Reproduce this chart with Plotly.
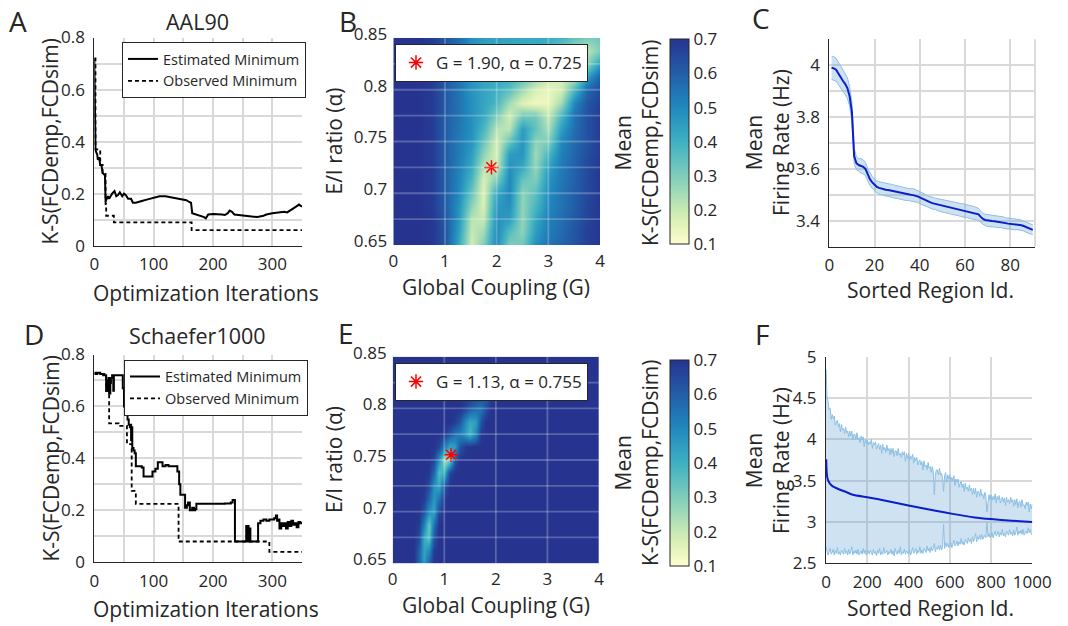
import plotly.graph_objects as go

W, H = 1068, 626
FONT = "Open Sans"
TXT = "#262626"
GRID = "#d9d9d9"

# ---------------- data ----------------
# Panel A (AAL90) optimisation traces
A_EST_X = [0, 1, 1.5, 2, 3, 5, 6, 8, 10, 12, 14, 17, 18, 19, 21, 23, 25, 27, 30, 34,
           37, 40, 43, 47, 50, 53, 57, 62, 65, 70, 75, 80, 90, 100, 110, 120, 130, 140, 150, 155,
           160, 163, 165, 170, 180, 185, 188, 192, 200, 210, 215, 220, 225, 228, 232, 236, 245, 255, 265, 275,
           285, 290, 300, 310, 320, 325, 330, 335, 340, 345, 348, 350]
A_EST = [0.72, 0.50, 0.40, 0.37, 0.36, 0.35, 0.33, 0.34, 0.31, 0.31, 0.28, 0.27, 0.27, 0.17, 0.18, 0.19, 0.18, 0.19, 0.20, 0.21,
         0.19, 0.195, 0.205, 0.19, 0.20, 0.195, 0.18, 0.18, 0.165, 0.165, 0.17, 0.172, 0.178, 0.185, 0.19, 0.19, 0.185, 0.182, 0.177, 0.175,
         0.168, 0.165, 0.125, 0.122, 0.115, 0.11, 0.105, 0.12, 0.122, 0.122, 0.12, 0.118, 0.125, 0.135, 0.13, 0.12, 0.118, 0.115, 0.112, 0.11,
         0.115, 0.12, 0.125, 0.128, 0.13, 0.128, 0.135, 0.14, 0.15, 0.158, 0.155, 0.15]
A_OBS_X = [0, 2, 10, 14, 19, 20, 33, 164, 350]
A_OBS = [0.72, 0.37, 0.31, 0.28, 0.16, 0.115, 0.09, 0.06, 0.06]

# Panel D (Schaefer1000) optimisation traces
D_EST_X = [0, 5, 10, 15, 18, 20, 22, 24, 25, 27, 28, 30, 32, 33, 35, 48, 50, 52, 54, 56,
           58, 60, 61, 62, 63, 64, 66, 68, 70, 75, 80, 83, 88, 95, 98, 103, 107, 112, 115, 120,
           125, 130, 138, 140, 143, 145, 150, 153, 156, 158, 161, 165, 168, 170, 172, 180, 200, 220, 230, 233,
           236, 237, 240, 255, 256, 257, 259, 260, 262, 263, 275, 276, 280, 285, 290, 295, 300, 303, 306, 308,
           310, 312, 315, 318, 320, 323, 326, 329, 332, 335, 338, 341, 344, 347, 350]
D_EST = [0.73, 0.73, 0.725, 0.72, 0.72, 0.66, 0.70, 0.71, 0.65, 0.69, 0.71, 0.72, 0.66, 0.72, 0.72, 0.67, 0.60, 0.59, 0.58, 0.55,
         0.53, 0.52, 0.53, 0.47, 0.52, 0.44, 0.43, 0.42, 0.37, 0.37, 0.365, 0.33, 0.33, 0.33, 0.35, 0.36, 0.385, 0.385, 0.37, 0.375,
         0.37, 0.37, 0.37, 0.35, 0.30, 0.26, 0.26, 0.21, 0.22, 0.23, 0.20, 0.21, 0.20, 0.205, 0.225, 0.225, 0.225, 0.226, 0.23, 0.24,
         0.24, 0.08, 0.08, 0.08, 0.14, 0.08, 0.14, 0.08, 0.13, 0.08, 0.08, 0.15, 0.16, 0.165, 0.16, 0.165, 0.165, 0.17, 0.18, 0.16,
         0.165, 0.13, 0.15, 0.14, 0.15, 0.13, 0.155, 0.14, 0.16, 0.145, 0.15, 0.135, 0.155, 0.15, 0.155]
D_OBS_X = [0, 20, 25, 41, 55, 63, 70, 142, 295, 350]
D_OBS = [0.725, 0.66, 0.535, 0.525, 0.455, 0.275, 0.225, 0.08, 0.04, 0.04]

# Heatmap grids
B_G = [0, 0.25, 0.5, 0.75, 1.0, 1.25, 1.5, 1.75, 2.0, 2.25, 2.5, 2.75, 3.0, 3.25, 3.5, 3.75, 4.0]
ALPHA = [0.65, 0.6625, 0.675, 0.6875, 0.70, 0.7125, 0.725, 0.7375, 0.75, 0.7625, 0.775, 0.7875,
         0.80, 0.8125, 0.825, 0.8375, 0.85]
B_Z = [
    [.70, .70, .70, .69, .62, .42, .18, .30, .50, .30, .32, .48, .55, .58, .62, .67, .69],
    [.70, .70, .70, .69, .62, .45, .20, .25, .50, .36, .28, .45, .53, .57, .62, .67, .69],
    [.70, .70, .70, .69, .61, .47, .22, .20, .48, .45, .27, .42, .52, .56, .61, .66, .69],
    [.70, .70, .70, .68, .60, .48, .28, .17, .46, .48, .27, .38, .50, .55, .60, .66, .69],
    [.70, .70, .70, .68, .60, .50, .33, .16, .42, .50, .28, .35, .49, .55, .60, .65, .69],
    [.70, .70, .70, .68, .60, .51, .38, .17, .30, .50, .33, .30, .47, .54, .59, .65, .69],
    [.70, .70, .70, .68, .60, .52, .42, .22, .20, .48, .42, .27, .44, .53, .59, .65, .69],
    [.70, .70, .70, .68, .60, .53, .45, .28, .17, .45, .47, .25, .38, .52, .58, .64, .68],
    [.70, .70, .70, .68, .60, .53, .47, .33, .18, .34, .47, .28, .30, .50, .57, .63, .68],
    [.70, .70, .70, .68, .60, .54, .48, .38, .22, .22, .45, .34, .24, .45, .56, .63, .68],
    [.70, .70, .70, .68, .60, .55, .48, .42, .30, .18, .32, .32, .20, .38, .55, .63, .68],
    [.70, .70, .70, .68, .61, .55, .48, .43, .38, .25, .16, .13, .14, .25, .50, .62, .67],
    [.70, .70, .70, .68, .61, .55, .47, .43, .40, .35, .25, .17, .14, .18, .38, .58, .65],
    [.70, .70, .70, .68, .61, .55, .47, .43, .42, .41, .36, .28, .20, .17, .22, .45, .60],
    [.70, .70, .70, .68, .61, .56, .47, .43, .43, .43, .41, .38, .31, .22, .18, .28, .45],
    [.70, .70, .70, .68, .62, .56, .48, .44, .43, .43, .42, .41, .38, .31, .25, .22, .30],
    [.70, .70, .70, .68, .62, .57, .48, .45, .44, .43, .42, .42, .41, .39, .34, .30, .32],
]
B_BEST_G, B_BEST_A = 1.90, 0.725

E_G = [0, 0.3, 0.4, 0.5, 0.6, 0.7, 0.8, 0.9, 1.0, 1.1, 1.2, 1.3, 1.4, 1.5, 1.6, 1.7, 1.8, 1.9, 2.0, 2.2, 2.6, 3.0, 3.5, 4.0]
E_Z = [
    [.70, .70, .70, .58, .45, .58, .70, .70, .70, .70, .70, .70, .70, .70, .70, .70, .70, .70, .70, .70, .70, .70, .70, .70],
    [.70, .70, .70, .60, .43, .50, .68, .70, .70, .70, .70, .70, .70, .70, .70, .70, .70, .70, .70, .70, .70, .70, .70, .70],
    [.70, .70, .70, .65, .42, .34, .62, .70, .70, .70, .70, .70, .70, .70, .70, .70, .70, .70, .70, .70, .70, .70, .70, .70],
    [.70, .70, .70, .68, .52, .33, .55, .70, .70, .70, .70, .70, .70, .70, .70, .70, .70, .70, .70, .70, .70, .70, .70, .70],
    [.70, .70, .70, .70, .62, .48, .43, .65, .70, .70, .70, .70, .70, .70, .70, .70, .70, .70, .70, .70, .70, .70, .70, .70],
    [.70, .70, .70, .70, .68, .58, .46, .55, .69, .70, .70, .70, .70, .70, .70, .70, .70, .70, .70, .70, .70, .70, .70, .70],
    [.70, .70, .70, .70, .70, .64, .48, .42, .62, .70, .70, .70, .70, .70, .70, .70, .70, .70, .70, .70, .70, .70, .70, .70],
    [.70, .70, .70, .70, .70, .69, .58, .36, .42, .66, .70, .70, .70, .70, .70, .70, .70, .70, .70, .70, .70, .70, .70, .70],
    [.70, .70, .70, .70, .70, .70, .66, .48, .24, .30, .62, .70, .70, .70, .70, .70, .70, .70, .70, .70, .70, .70, .70, .70],
    [.70, .70, .70, .70, .70, .70, .70, .66, .52, .42, .45, .62, .68, .70, .70, .70, .70, .70, .70, .70, .70, .70, .70, .70],
    [.70, .70, .70, .70, .70, .70, .70, .70, .68, .62, .55, .52, .46, .38, .50, .68, .70, .70, .70, .70, .70, .70, .70, .70],
    [.70, .70, .70, .70, .70, .70, .70, .70, .70, .70, .68, .62, .50, .42, .45, .62, .70, .70, .70, .70, .70, .70, .70, .70],
    [.70, .70, .70, .70, .70, .70, .70, .70, .70, .70, .70, .70, .66, .60, .56, .55, .63, .70, .70, .70, .70, .70, .70, .70],
    [.70, .70, .70, .70, .70, .70, .70, .70, .70, .70, .70, .70, .70, .70, .67, .63, .62, .67, .70, .70, .70, .70, .70, .70],
    [.70, .70, .70, .70, .70, .70, .70, .70, .70, .70, .70, .70, .70, .70, .70, .70, .68, .70, .70, .70, .70, .70, .70, .70],
    [.70, .70, .70, .70, .70, .70, .70, .70, .70, .70, .70, .70, .70, .70, .70, .70, .70, .70, .70, .70, .70, .70, .70, .70],
    [.70, .70, .70, .70, .70, .70, .70, .70, .70, .70, .70, .70, .70, .70, .70, .70, .70, .70, .70, .70, .70, .70, .70, .70],
]
E_BEST_G, E_BEST_A = 1.13, 0.755

HEAT_GRID_G = [1, 2, 3]
HEAT_GRID_ALPHA = [0.675, 0.70, 0.725, 0.75, 0.775, 0.80, 0.825]

# Panel C (AAL90 firing rates, sorted)
C_REGION = list(range(1, 91))
C_MEAN = [3.990, 3.988, 3.983, 3.968, 3.952, 3.940, 3.928, 3.912, 3.880, 3.820,
          3.650, 3.622, 3.615, 3.612, 3.608, 3.600, 3.578, 3.560, 3.548, 3.538,
          3.531, 3.527, 3.524, 3.522, 3.520, 3.519, 3.517, 3.514, 3.512, 3.510,
          3.508, 3.506, 3.504, 3.502, 3.501, 3.500, 3.499, 3.497, 3.494, 3.490,
          3.486, 3.481, 3.475, 3.472, 3.470, 3.467, 3.465, 3.462, 3.460, 3.458,
          3.456, 3.454, 3.452, 3.450, 3.448, 3.446, 3.444, 3.442, 3.440, 3.438,
          3.436, 3.434, 3.432, 3.430, 3.428, 3.425, 3.415, 3.407, 3.403, 3.401,
          3.400, 3.399, 3.398, 3.397, 3.396, 3.395, 3.393, 3.391, 3.389, 3.388,
          3.387, 3.386, 3.386, 3.385, 3.383, 3.380, 3.376, 3.372, 3.368, 3.365]
C_SD = [0.045, 0.045, 0.044, 0.043, 0.042, 0.041, 0.040, 0.040, 0.038, 0.036,
        0.030, 0.025, 0.024, 0.028, 0.027, 0.025, 0.024, 0.024, 0.023, 0.023,
        0.023, 0.024, 0.024, 0.025, 0.025, 0.024, 0.025, 0.026, 0.025, 0.024,
        0.024, 0.025, 0.025, 0.024, 0.023, 0.024, 0.025, 0.024, 0.023, 0.024,
        0.024, 0.023, 0.022, 0.023, 0.024, 0.023, 0.022, 0.023, 0.024, 0.025,
        0.024, 0.023, 0.024, 0.025, 0.024, 0.023, 0.024, 0.025, 0.026, 0.025,
        0.024, 0.025, 0.026, 0.025, 0.024, 0.023, 0.022, 0.021, 0.022, 0.023,
        0.022, 0.021, 0.022, 0.023, 0.022, 0.021, 0.022, 0.021, 0.020, 0.021,
        0.022, 0.021, 0.020, 0.021, 0.020, 0.019, 0.020, 0.019, 0.020, 0.019]

# Panel F (Schaefer1000 firing rates, sorted) - band edges sampled every 5 regions
F_REGION = list(range(0, 1001, 5))
F_UP = [4.85, 4.51, 4.46, 4.36, 4.38, 4.24, 4.30, 4.25, 4.28, 4.17, 4.21, 4.23, 4.15, 4.19, 4.09, 4.18, 4.11, 4.13, 4.07, 4.15,
        4.08, 4.10, 4.03, 4.10, 4.04, 4.10, 3.99, 4.06, 4.06, 4.00, 4.08, 4.00, 4.02, 3.96, 4.04, 3.99, 4.03, 3.91, 4.00, 3.95,
        4.00, 3.93, 3.97, 3.94, 4.00, 3.89, 3.96, 3.93, 3.97, 3.88, 3.92, 3.95, 3.88, 3.93, 3.83, 3.94, 3.87, 3.90, 3.84, 3.93,
        3.86, 3.89, 3.81, 3.89, 3.83, 3.89, 3.79, 3.86, 3.86, 3.80, 3.89, 3.81, 3.83, 3.78, 3.85, 3.81, 3.85, 3.73, 3.83, 3.77,
        3.83, 3.75, 3.80, 3.76, 3.82, 3.71, 3.78, 3.74, 3.78, 3.69, 3.73, 3.75, 3.69, 3.73, 3.63, 3.74, 3.67, 3.69, 3.63, 3.72,
        3.65, 3.67, 3.60, 3.67, 3.61, 3.33, 3.56, 3.63, 3.63, 3.57, 3.65, 3.57, 3.59, 3.53, 3.37, 3.56, 3.60, 3.48, 3.57, 3.52,
        3.57, 3.49, 3.54, 3.50, 3.56, 3.44, 3.52, 3.48, 3.52, 3.42, 3.47, 3.49, 3.42, 3.46, 3.37, 3.47, 3.40, 3.42, 3.37, 3.45,
        3.38, 3.41, 3.33, 3.41, 3.34, 3.41, 3.30, 3.37, 3.37, 3.31, 3.40, 3.32, 3.34, 3.28, 3.36, 3.31, 3.12, 3.26, 3.33, 3.27,
        3.33, 3.26, 3.31, 3.27, 3.34, 3.23, 3.31, 3.27, 3.32, 3.23, 3.28, 3.30, 3.24, 3.29, 3.20, 3.30, 3.24, 3.27, 3.22, 3.30,
        3.24, 3.27, 3.19, 3.27, 3.21, 3.28, 3.17, 3.24, 3.25, 3.18, 3.27, 3.20, 3.21, 3.16, 3.24, 3.20, 3.24, 3.12, 3.22, 3.16, 3.22]
F_LO = [2.70, 2.66, 2.60, 2.64, 2.68, 2.61, 2.63, 2.67, 2.60, 2.65, 2.62, 2.69, 2.61, 2.64, 2.60, 2.66, 2.63, 2.61, 2.68, 2.62,
        2.65, 2.60, 2.67, 2.61, 2.64, 2.70, 2.60, 2.65, 2.62, 2.66, 2.61, 2.67, 2.60, 2.63, 2.65, 2.61, 2.68, 2.62, 2.66, 2.60,
        2.62, 2.65, 2.61, 2.66, 2.63, 2.60, 2.67, 2.62, 2.64, 2.59, 2.66, 2.62, 2.68, 2.60, 2.64, 2.61, 2.69, 2.62, 2.63, 2.66,
        2.60, 2.64, 2.62, 2.67, 2.61, 2.65, 2.59, 2.68, 2.63, 2.61, 2.66, 2.62, 2.70, 2.60, 2.64, 2.62, 2.67, 2.61, 2.65, 2.62,
        2.61, 2.66, 2.60, 2.64, 2.69, 2.62, 2.64, 2.68, 2.61, 2.66, 2.63, 2.70, 2.62, 2.66, 2.62, 2.68, 2.65, 2.63, 2.71, 2.65,
        2.68, 2.63, 2.70, 2.65, 2.68, 2.74, 2.64, 2.69, 2.67, 2.71, 2.66, 2.72, 2.66, 2.69, 2.97, 2.68, 2.75, 2.70, 2.74, 2.69,
        2.70, 2.75, 2.69, 2.74, 2.78, 2.71, 2.73, 2.77, 2.71, 2.76, 2.73, 2.80, 2.73, 2.76, 2.72, 2.79, 2.76, 2.74, 2.81, 2.76,
        2.79, 2.74, 2.82, 2.76, 2.80, 2.86, 2.76, 2.82, 2.79, 2.84, 2.79, 2.85, 2.79, 2.82, 2.84, 2.81, 3.00, 2.82, 2.86, 2.81,
        2.82, 2.87, 2.81, 2.85, 2.89, 2.83, 2.85, 2.89, 2.82, 2.87, 2.84, 2.91, 2.83, 2.86, 2.82, 2.89, 2.86, 2.84, 2.91, 2.85,
        2.88, 2.83, 2.90, 2.84, 2.87, 2.94, 2.84, 2.89, 2.86, 2.90, 2.85, 2.91, 2.84, 2.87, 2.89, 2.86, 2.93, 2.87, 2.91, 2.85, 2.86]
F_MEAN_X = [1, 3, 5, 8, 13, 20, 33, 50, 68, 100, 130, 200, 295, 400, 525, 620, 720, 800, 900, 1000]
F_MEAN = [3.76, 3.62, 3.56, 3.52, 3.49, 3.46, 3.43, 3.41, 3.39, 3.36, 3.33, 3.30, 3.255, 3.20, 3.14, 3.095, 3.055, 3.035, 3.015, 3.00]

# ---------------- styling helpers ----------------
CSCALE = [[0.0, '#fcfdcf'], [0.083, '#e5f4bb'], [0.167, '#c7e9b4'], [0.333, '#7fcdbb'],
          [0.5, '#3fb0c3'], [0.667, '#2188bd'], [0.833, '#225ea8'], [1.0, '#26348f']]
BAND_FILL = 'rgba(95,158,208,0.30)'
BAND_EDGE = '#8bbfe3'
MEAN_COL = '#0a1ecb'
TICK = 17


def fx(px):
    return px / W


def fy(py):
    return 1 - py / H


fig = go.Figure()

# ---- A ----
fig.add_trace(go.Scatter(x=A_EST_X, y=A_EST, mode='lines', name='Estimated Minimum',
                         line=dict(color='black', width=2), xaxis='x', yaxis='y', legend='legend'))
fig.add_trace(go.Scatter(x=A_OBS_X, y=A_OBS, mode='lines', name='Observed Minimum',
                         line=dict(color='black', width=1.8, dash='4px,3px', shape='hv'),
                         xaxis='x', yaxis='y', legend='legend'))

# ---- D ----
fig.add_trace(go.Scatter(x=D_EST_X, y=D_EST, mode='lines', name='Estimated Minimum',
                         line=dict(color='black', width=2, shape='hv'), xaxis='x4', yaxis='y4', legend='legend2'))
fig.add_trace(go.Scatter(x=D_OBS_X, y=D_OBS, mode='lines', name='Observed Minimum',
                         line=dict(color='black', width=1.8, dash='4px,3px', shape='hv'),
                         xaxis='x4', yaxis='y4', legend='legend2'))


def cbar(yc_px, len_px):
    return dict(x=fx(670), xanchor='left', xpad=0, ypad=0, y=fy(yc_px), yanchor='middle',
                len=len_px / H, lenmode='fraction', thickness=19, outlinewidth=1, outlinecolor=TXT,
                tickvals=[0.1, 0.2, 0.3, 0.4, 0.5, 0.6, 0.7], ticks='',
                tickfont=dict(size=TICK, color=TXT, family=FONT))


# ---- B ----
fig.add_trace(go.Heatmap(x=B_G, y=ALPHA, z=B_Z, zmin=0.1, zmax=0.7, colorscale=CSCALE, zsmooth='best',
                         xaxis='x2', yaxis='y2', colorbar=cbar(141.8, 205), hoverinfo='skip'))
fig.add_trace(go.Scatter(x=[B_BEST_G], y=[B_BEST_A], mode='markers',
                         name=f'G = {B_BEST_G:.2f}, α = {B_BEST_A:.3f}',
                         marker=dict(symbol='asterisk-open', size=12, color='red', line=dict(color='red', width=1.5)),
                         xaxis='x2', yaxis='y2', legend='legend3'))

# ---- E ----
fig.add_trace(go.Heatmap(x=E_G, y=ALPHA, z=E_Z, zmin=0.1, zmax=0.7, colorscale=CSCALE, zsmooth='best',
                         xaxis='x5', yaxis='y5', colorbar=cbar(463, 206), hoverinfo='skip'))
fig.add_trace(go.Scatter(x=[E_BEST_G], y=[E_BEST_A], mode='markers',
                         name=f'G = {E_BEST_G:.2f}, α = {E_BEST_A:.3f}',
                         marker=dict(symbol='asterisk-open', size=12, color='red', line=dict(color='red', width=1.5)),
                         xaxis='x5', yaxis='y5', legend='legend4'))

# ---- C ----
c_lo = [m - s for m, s in zip(C_MEAN, C_SD)]
c_hi = [m + s for m, s in zip(C_MEAN, C_SD)]
fig.add_trace(go.Scatter(x=C_REGION, y=c_lo, mode='lines', line=dict(color=BAND_EDGE, width=1),
                         xaxis='x3', yaxis='y3', showlegend=False))
fig.add_trace(go.Scatter(x=C_REGION, y=c_hi, mode='lines', line=dict(color=BAND_EDGE, width=1),
                         fill='tonexty', fillcolor=BAND_FILL, xaxis='x3', yaxis='y3', showlegend=False))
fig.add_trace(go.Scatter(x=C_REGION, y=C_MEAN, mode='lines', line=dict(color=MEAN_COL, width=2),
                         xaxis='x3', yaxis='y3', showlegend=False))

# ---- F ----
fig.add_trace(go.Scatter(x=F_REGION, y=F_LO, mode='lines', line=dict(color=BAND_EDGE, width=1),
                         xaxis='x6', yaxis='y6', showlegend=False))
fig.add_trace(go.Scatter(x=F_REGION, y=F_UP, mode='lines', line=dict(color=BAND_EDGE, width=1),
                         fill='tonexty', fillcolor=BAND_FILL, xaxis='x6', yaxis='y6', showlegend=False))
fig.add_trace(go.Scatter(x=F_MEAN_X, y=F_MEAN, mode='lines', line=dict(color=MEAN_COL, width=2, shape='spline', smoothing=0.6),
                         xaxis='x6', yaxis='y6', showlegend=False))


# ---------------- axes ----------------
def line_axis(domain, anchor, rng, dtick, minor=None, tick0=0, standoff=0):
    d = dict(domain=domain, anchor=anchor, range=rng, dtick=dtick, tick0=tick0, tickmode='linear',
             showline=True, linecolor=TXT, linewidth=1, ticks='', showgrid=True, gridcolor=GRID,
             gridwidth=1.8, zeroline=False, fixedrange=True, automargin=False,
             tickfont=dict(size=TICK, color=TXT, family=FONT))
    if standoff:
        d['ticklabelstandoff'] = standoff
    if minor:
        d['minor'] = dict(dtick=minor, tick0=tick0, showgrid=True, gridcolor=GRID, gridwidth=1.8)
    return d


def heat_axis(domain, anchor, rng, tickvals, ticktext, shift=0, standoff=0):
    d = dict(domain=domain, anchor=anchor, range=rng, tickmode='array', tickvals=tickvals, ticktext=ticktext,
             showline=False, showgrid=False, zeroline=False, ticks='', fixedrange=True, automargin=False,
             tickfont=dict(size=TICK, color=TXT, family=FONT))
    if shift:
        d['ticklabelshift'] = shift
    if standoff:
        d['ticklabelstandoff'] = standoff
    return d


G_TICKS = [0, 1, 2, 3, 4]
A_TICKS = [0.65, 0.70, 0.75, 0.80, 0.85]
A_TEXT = ['0.65', '0.7', '0.75', '0.8', '0.85']

top_dom = [fy(245.7), fy(37.5)]
bot_dom = [fy(562.3), fy(354.5)]

layout_axes = dict(
    xaxis=line_axis([fx(94.3), fx(302)], 'y', [0, 350], 100, 50, standoff=3),
    yaxis=line_axis(top_dom, 'x', [0, 0.8], 0.2, 0.1, standoff=5),
    xaxis4=line_axis([fx(94.3), fx(302)], 'y4', [0, 350], 100, 50, standoff=3),
    yaxis4=line_axis(bot_dom, 'x4', [0, 0.8], 0.2, 0.1, standoff=5),
    xaxis2=heat_axis([fx(393.3), fx(600)], 'y2', [0, 4], G_TICKS, [str(g) for g in G_TICKS], standoff=4),
    yaxis2=heat_axis([fy(245), fy(38)], 'x2', [0.65, 0.85], A_TICKS, A_TEXT, shift=-4, standoff=5),
    xaxis5=heat_axis([fx(392.7), fx(599)], 'y5', [0, 4], G_TICKS, [str(g) for g in G_TICKS], standoff=4),
    yaxis5=heat_axis([fy(563.3), fy(356.7)], 'x5', [0.65, 0.85], A_TICKS, A_TEXT, shift=-4, standoff=5),
    xaxis3=line_axis([fx(829.3), fx(1035)], 'y3', [0, 91], 20, standoff=3),
    yaxis3=line_axis([fy(246.7), fy(39.3)], 'x3', [3.3, 4.1], 0.2, 0.1, tick0=3.4, standoff=5),
    xaxis6=line_axis([fx(826), fx(1032.3)], 'y6', [0, 1000], 200, standoff=3),
    yaxis6=line_axis([fy(563.3), fy(356.7)], 'x6', [2.5, 5], 0.5, standoff=5),
)

# ---------------- shapes (heatmap grid overlay, box edge of C) ----------------
shapes = []
for xa, ya in (('x2', 'y2'), ('x5', 'y5')):
    for g in HEAT_GRID_G:
        shapes.append(dict(type='line', xref=xa, yref=ya, x0=g, x1=g, y0=0.65, y1=0.85,
                           line=dict(color='rgba(255,255,255,0.24)', width=1.8), layer='above'))
    for a in HEAT_GRID_ALPHA:
        shapes.append(dict(type='line', xref=xa, yref=ya, x0=0, x1=4, y0=a, y1=a,
                           line=dict(color='rgba(255,255,255,0.24)', width=1.8), layer='above'))
shapes.append(dict(type='line', xref='x3 domain', yref='y3 domain', x0=1, x1=1, y0=0, y1=1,
                   line=dict(color=GRID, width=1.8), layer='below'))

# ---------------- annotations ----------------
anns = []


def ann(text, xpx, ypx, size=21, angle=0):
    anns.append(dict(text=text, x=fx(xpx), y=fy(ypx), xref='paper', yref='paper', showarrow=False,
                     xanchor='center', yanchor='middle', textangle=angle,
                     font=dict(size=size, color=TXT, family=FONT)))


for letter, xp, yp in (('A', 18, 21), ('B', 348, 21), ('C', 761, 18),
                       ('D', 34, 334), ('E', 346, 333), ('F', 762, 334)):
    ann(letter, xp, yp, size=28)

ann('AAL90', 197, 21, size=21.5)
ann('Schaefer1000', 197, 335, size=21.5)
ann('Optimization Iterations', 206, 293)
ann('Optimization Iterations', 206, 609)
ann('K-S(FCDemp,FCDsim)', 50, 141.5, angle=-90)
ann('K-S(FCDemp,FCDsim)', 50, 458.5, angle=-90)
ann('Global Coupling (G)', 496, 287)
ann('Global Coupling (G)', 496, 605)
ann('E/I ratio (α)', 334, 141.5, angle=-90)
ann('E/I ratio (α)', 334, 460, angle=-90)
ann('Mean<br>K-S(FCDemp,FCDsim)', 636, 143, angle=-90)
ann('Mean<br>K-S(FCDemp,FCDsim)', 636, 463, angle=-90)
ann('Sorted Region Id.', 930, 290)
ann('Sorted Region Id.', 930, 608)
ann('Mean<br>Firing Rate (Hz)', 767, 143, angle=-90)
ann('Mean<br>Firing Rate (Hz)', 767, 461, angle=-90)


def legend_box(xpx, ypx, size):
    return dict(x=fx(xpx), y=fy(ypx), xanchor='left', yanchor='top', bgcolor='white',
                bordercolor=TXT, borderwidth=1, tracegroupgap=0, itemwidth=30, traceorder='normal',
                font=dict(size=size, color=TXT, family=FONT))


fig.update_layout(
    width=W, height=H, autosize=False,
    margin=dict(l=0, r=0, t=0, b=0, pad=0, autoexpand=False),
    paper_bgcolor='white', plot_bgcolor='white',
    font=dict(family=FONT, color=TXT),
    showlegend=True,
    legend=legend_box(122, 42, 14.5),
    legend2=legend_box(124, 359.5, 14.5),
    legend3=legend_box(395, 44, 17),
    legend4=legend_box(395, 363, 17),
    shapes=shapes,
    annotations=anns,
    **layout_axes,
)

fig.write_html("out.html", config={'displayModeBar': False},
               post_script="document.body.style.margin='0';document.body.style.overflow='hidden';")
